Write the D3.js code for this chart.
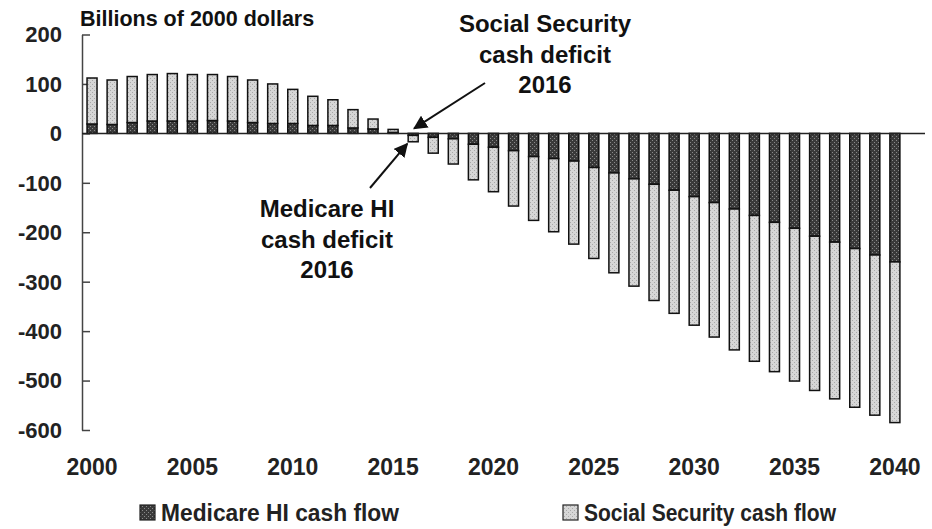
<!DOCTYPE html>
<html>
<head>
<meta charset="utf-8">
<script src="https://cdn.jsdelivr.net/npm/d3@7"></script>
<style>
  body { margin: 0; background: #fff; }
  svg { display: block; font-family: "Liberation Sans", Arial, sans-serif; }
</style>
</head>
<body>
<div id="chart"></div>
<script>
// data, billions of 2000 dollars
const years = d3.range(2000, 2041)
const hiFlow = [19, 18, 22, 25, 25, 25, 26, 25, 22, 20, 20, 16, 16, 11, 9, 2,
  -4, -8, -11, -22, -28, -35, -47, -51, -56, -69, -80, -92, -103, -115, -128,
  -140, -153, -166, -180, -192, -208, -220, -233, -246, -260]
const ssFlow = [93, 90, 93, 94, 96, 94, 93, 90, 86, 80, 69, 59, 52, 37, 20, 6,
  -13, -32, -51, -72, -90, -112, -129, -148, -168, -184, -202, -217, -235, -249, -260,
  -272, -285, -295, -302, -309, -312, -317, -321, -324, -325]
const yTicks = [200, 100, 0, -100, -200, -300, -400, -500, -600]
const xTickLabels = [2000, 2005, 2010, 2015, 2020, 2025, 2030, 2035, 2040]
const seriesNames = ["Medicare HI cash flow", "Social Security cash flow"]

const width = 932, height = 529

const svg = d3.select("#chart").append("svg")
  .attr("width", width)
  .attr("height", height)

// textures for the two fills
const defs = svg.append("defs")
function texture (id, base, dot) {
  const p = defs.append("pattern")
    .attr("id", id)
    .attr("patternUnits", "userSpaceOnUse")
    .attr("width", 4).attr("height", 4)
  p.append("rect").attr("width", 4).attr("height", 4).attr("fill", base)
  p.append("rect").attr("x", 0).attr("y", 0).attr("width", 1).attr("height", 1).attr("fill", dot)
  p.append("rect").attr("x", 2).attr("y", 2).attr("width", 1).attr("height", 1).attr("fill", dot)
}
texture("darkfill", "#3a3a3a", "#8a8a8a")
texture("lightfill", "#d6d6d6", "#a8a8a8")

const x = d3.scaleLinear().domain([1999.5, 2041.5]).range([82, 925])
const y = d3.scaleLinear().domain([-600, 200]).range([430, 34.5])
const barW = 10

// y axis, ticks pointing inward
const yaxis = svg.append("g")
  .attr("transform", "translate(" + x(1999.5) + ",0)")
  .call(d3.axisRight(y).tickValues(yTicks).tickSize(8).tickSizeOuter(0).tickFormat(""))
yaxis.select(".domain").attr("stroke", "#444").attr("stroke-width", 1.5)
yaxis.selectAll(".tick line").attr("stroke", "#444").attr("stroke-width", 1.5)

svg.append("g").selectAll("text")
  .data(yTicks)
  .enter().append("text")
  .attr("x", 62)
  .attr("y", d => y(d))
  .attr("dy", "0.36em")
  .attr("text-anchor", "end")
  .attr("font-size", 22)
  .attr("font-weight", "bold")
  .attr("fill", "#222")
  .text(d => d)

// stacked bars : HI from zero, SS stacked beyond it
const bars = svg.append("g")
years.forEach((yr, i) => {
  const h = hiFlow[i], s = ssFlow[i]
  bars.append("rect")
    .attr("x", x(yr) - barW / 2)
    .attr("y", y(Math.max(0, h)))
    .attr("width", barW)
    .attr("height", Math.abs(y(h) - y(0)))
    .attr("fill", "url(#darkfill)")
    .attr("stroke", "#111").attr("stroke-width", 1.5)
  bars.append("rect")
    .attr("x", x(yr) - barW / 2)
    .attr("y", y(Math.max(h, h + s)))
    .attr("width", barW)
    .attr("height", Math.abs(y(h + s) - y(h)))
    .attr("fill", "url(#lightfill)")
    .attr("stroke", "#111").attr("stroke-width", 1.5)
})

// zero line
svg.append("line")
  .attr("x1", x(1999.5)).attr("x2", x(2041.5))
  .attr("y1", y(0)).attr("y2", y(0))
  .attr("stroke", "#222").attr("stroke-width", 1.5)

// x labels
svg.append("g").selectAll("text")
  .data(xTickLabels)
  .enter().append("text")
  .attr("x", d => x(d))
  .attr("y", 475)
  .attr("text-anchor", "middle")
  .attr("font-size", 23)
  .attr("font-weight", "bold")
  .attr("fill", "#222")
  .text(d => d)

// title
svg.append("text")
  .attr("x", 80).attr("y", 26)
  .attr("font-size", 21.5)
  .attr("font-weight", "bold")
  .attr("fill", "#111")
  .text("Billions of 2000 dollars")

// annotations
svg.append("defs").append("marker")
  .attr("id", "arrow")
  .attr("viewBox", "0 0 10 10")
  .attr("refX", 9).attr("refY", 5)
  .attr("markerWidth", 7).attr("markerHeight", 7)
  .attr("orient", "auto-start-reverse")
  .append("path").attr("d", "M0,0 L10,5 L0,10 z").attr("fill", "#111")

function note (cx, lines, baseY) {
  const t = svg.append("text")
    .attr("text-anchor", "middle")
    .attr("font-size", 24)
    .attr("font-weight", "bold")
    .attr("fill", "#111")
  lines.forEach((l, i) => {
    t.append("tspan").attr("x", cx).attr("y", baseY + i * 30.5).text(l)
  })
}
note(545, ["Social Security", "cash deficit", "2016"], 32)
note(327, ["Medicare HI", "cash deficit", "2016"], 217)

svg.append("line")
  .attr("x1", 485).attr("y1", 83)
  .attr("x2", x(2016) + 1).attr("y2", y(0) - 5)
  .attr("stroke", "#111").attr("stroke-width", 2)
  .attr("marker-end", "url(#arrow)")
svg.append("line")
  .attr("x1", 370).attr("y1", 188)
  .attr("x2", x(2016) - 6).attr("y2", y(hiFlow[16] + ssFlow[16]) + 2)
  .attr("stroke", "#111").attr("stroke-width", 2)
  .attr("marker-end", "url(#arrow)")

// legend
const legend = svg.append("g")
const legX = [140, 563]
const legLen = [238, 252]
seriesNames.forEach((name, i) => {
  legend.append("rect")
    .attr("x", legX[i]).attr("y", 505)
    .attr("width", 15).attr("height", 15)
    .attr("fill", i === 0 ? "url(#darkfill)" : "url(#lightfill)")
    .attr("stroke", "#222").attr("stroke-width", 1.2)
  legend.append("text")
    .attr("x", legX[i] + 21).attr("y", 521)
    .attr("font-size", 23)
    .attr("font-weight", "bold")
    .attr("fill", "#222")
    .attr("textLength", legLen[i])
    .attr("lengthAdjust", "spacingAndGlyphs")
    .text(name)
})
</script>
</body>
</html>
